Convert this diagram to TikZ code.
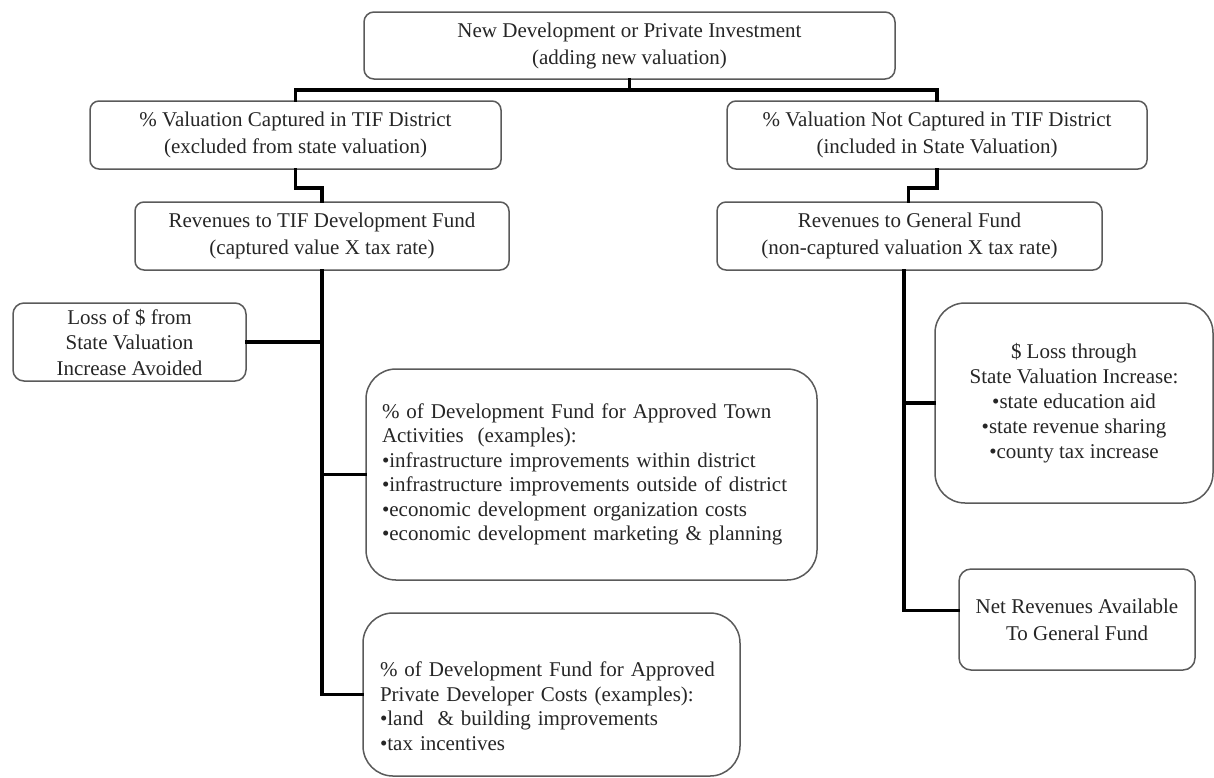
\documentclass[tikz,border=0pt]{standalone}
\usepackage{fontspec}
\setmainfont{Liberation Serif}
\definecolor{boxgray}{HTML}{5A5A5A}
\definecolor{textgray}{HTML}{262626}
\begin{document}
\begin{tikzpicture}[x=1pt,y=-1pt,
  box/.style={draw=boxgray, line width=1.5pt, rounded corners=#1, fill=white,
    text=textgray, font=\fontsize{21}{27}\selectfont, align=center, inner sep=0pt},
  box/.default=9pt,
  listbox/.style={box=#1, align=left, font=\fontsize{21}{24.5}\selectfont, inner xsep=8pt},
  conn/.style={line width=3.6pt, draw=black, line cap=rect}]
\useasboundingbox (0,0) rectangle (1214,777);

\node[box=10pt, minimum width=531pt, minimum height=67pt] (top) at (629.5,45.5)
  {New Development or Private Investment\\(adding new valuation)};
\node[box, minimum width=411pt, minimum height=68pt] (cap) at (295.5,135)
  {\% Valuation Captured in TIF District\\(excluded from state valuation)};
\node[box, minimum width=420pt, minimum height=68pt] (ncap) at (937,135)
  {\% Valuation Not Captured in TIF District\\(included in State Valuation)};
\node[box, minimum width=374pt, minimum height=68pt] (tif) at (322,236)
  {Revenues to TIF Development Fund\\(captured value X tax rate)};
\node[box, minimum width=385pt, minimum height=68pt] (gen) at (909.5,236)
  {Revenues to General Fund\\(non-captured valuation X tax rate)};
\node[box=11pt, minimum width=233pt, minimum height=78pt, font=\fontsize{21}{25.5}\selectfont] (loss) at (129.5,342)
  {Loss of \$ from\\State Valuation\\Increase Avoided};
\node[listbox=30pt, text width=419pt, minimum width=451pt, minimum height=211pt] (town) at (591.5,474.5)
  {\% of Development Fund for Approved Town\\Activities~ (examples):\\•infrastructure improvements within district\\•infrastructure improvements outside of district\\•economic development organization costs\\•economic development marketing \& planning};
\node[listbox=30pt, text width=343pt, minimum width=377pt, minimum height=163pt] (dev) at (551.5,694.5)
  {\rule{0pt}{38pt}\% of Development Fund for Approved\\Private Developer Costs (examples):\\•land~ \& building improvements\\•tax incentives};
\node[box=30pt, minimum width=278pt, minimum height=200pt, font=\fontsize{21}{25}\selectfont] (dloss) at (1074,403)
  {\$ Loss through\\State Valuation Increase:\\•state education aid\\•state revenue sharing\\•county tax increase};
\node[box=12pt, minimum width=236pt, minimum height=101pt] (net) at (1077,619.5)
  {Net Revenues Available\\To General Fund};

\coordinate (bus) at (630,90);
\coordinate (lspine) at (322,0);
\coordinate (rspine) at (904,0);

\draw[conn] (top.south) -- (top.south |- bus);
\draw[conn] (cap.north) -- (cap.north |- bus) -- (ncap.north |- bus) -- (ncap.north);
\draw[conn] (cap.south) -- ++(0,18) -| (tif.north);
\draw[conn] (ncap.south) -- ++(0,18) -| ([xshift=-1pt]gen.north);
\draw[conn] (tif.south) -- (tif.south |- dev.west) -- (dev.west);
\draw[conn] (loss.east) -- (loss.east -| lspine);
\draw[conn] (town.west) -- (town.west -| lspine);
\draw[conn] (gen.south -| rspine) -- ([yshift=9pt]net.west -| rspine) -- ([yshift=9pt]net.west);
\draw[conn] (dloss.west) -- (dloss.west -| rspine);
\end{tikzpicture}
\end{document}
